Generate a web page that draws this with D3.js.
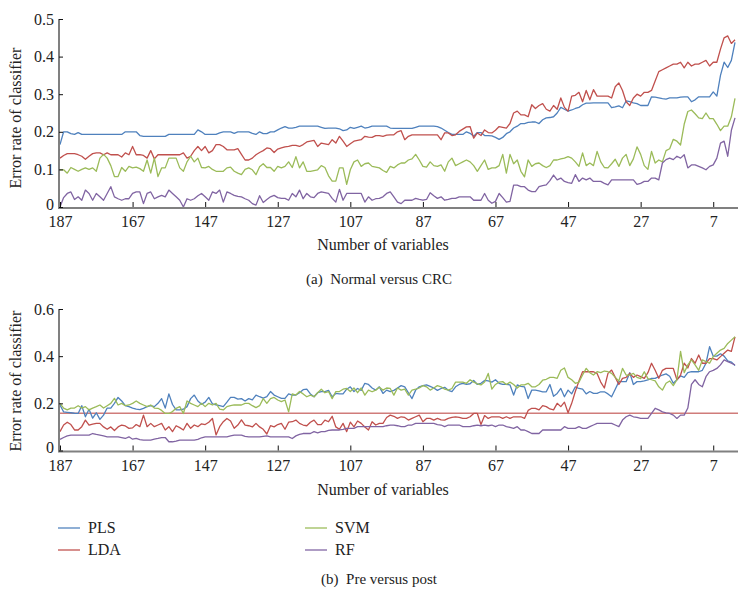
<!DOCTYPE html>
<html><head><meta charset="utf-8">
<script src="https://cdn.jsdelivr.net/npm/d3@7"></script>
<style>body{margin:0;background:#fff}svg{display:block}</style>
</head><body><svg id="c" width="752" height="599"></svg>
<script>
// x categories: number of variables, 187 down to 1
const numVariables = d3.range(187, 0, -1);
const xTickValues = [187,167,147,127,107,87,67,47,27,7];
const topYTicks = [0,0.1,0.2,0.3,0.4,0.5];
const bottomYTicks = [0,0.2,0.4,0.6];
const seriesNames = ["PLS","LDA","SVM","RF"];
const seriesColors = ["#4f81bd","#c0504d","#9bbb59","#8064a2"];

// (a) Normal versus CRC
const topPLS = [
0.166,0.2,0.2,0.195,0.193,0.198,0.193,0.193,0.193,0.193,
0.193,0.193,0.193,0.193,0.193,0.193,0.193,0.193,0.2,0.2,
0.2,0.2,0.19,0.188,0.188,0.188,0.188,0.188,0.188,0.188,
0.193,0.193,0.193,0.193,0.193,0.193,0.193,0.193,0.205,0.2,
0.193,0.193,0.193,0.193,0.197,0.2,0.2,0.2,0.196,0.2,
0.2,0.2,0.2,0.196,0.193,0.2,0.195,0.195,0.2,0.2,
0.205,0.21,0.214,0.21,0.21,0.212,0.215,0.215,0.215,0.215,
0.215,0.215,0.212,0.209,0.21,0.21,0.21,0.208,0.203,0.205,
0.212,0.209,0.212,0.215,0.21,0.212,0.215,0.215,0.215,0.215,
0.215,0.21,0.209,0.209,0.209,0.209,0.209,0.209,0.212,0.215,
0.215,0.215,0.215,0.215,0.214,0.21,0.204,0.198,0.193,0.193,
0.193,0.193,0.2,0.196,0.188,0.198,0.198,0.19,0.19,0.189,
0.185,0.18,0.185,0.195,0.2,0.21,0.215,0.222,0.222,0.225,
0.226,0.226,0.222,0.232,0.237,0.238,0.24,0.25,0.265,0.26,
0.255,0.258,0.262,0.265,0.272,0.276,0.276,0.277,0.277,0.277,
0.277,0.277,0.264,0.266,0.269,0.264,0.282,0.28,0.277,0.275,
0.27,0.27,0.27,0.293,0.292,0.29,0.288,0.287,0.29,0.29,
0.29,0.292,0.293,0.293,0.28,0.285,0.293,0.293,0.293,0.293,
0.306,0.295,0.35,0.385,0.371,0.39,0.438];
const topLDA = [
0.13,0.137,0.142,0.142,0.142,0.139,0.135,0.127,0.135,0.142,
0.144,0.144,0.139,0.144,0.139,0.139,0.139,0.133,0.144,0.139,
0.161,0.139,0.139,0.137,0.13,0.15,0.128,0.139,0.139,0.139,
0.139,0.139,0.139,0.139,0.144,0.13,0.135,0.15,0.161,0.15,
0.161,0.144,0.15,0.166,0.166,0.161,0.152,0.152,0.152,0.155,
0.14,0.125,0.125,0.13,0.139,0.145,0.15,0.157,0.155,0.145,
0.154,0.157,0.16,0.161,0.164,0.164,0.161,0.166,0.173,0.175,
0.177,0.161,0.17,0.168,0.166,0.179,0.17,0.188,0.175,0.161,
0.168,0.175,0.177,0.179,0.188,0.186,0.185,0.19,0.19,0.188,
0.191,0.192,0.192,0.2,0.203,0.179,0.188,0.192,0.192,0.192,
0.192,0.192,0.192,0.192,0.192,0.179,0.197,0.197,0.19,0.192,
0.201,0.207,0.213,0.214,0.183,0.197,0.19,0.205,0.198,0.197,
0.204,0.214,0.212,0.21,0.222,0.25,0.255,0.245,0.245,0.24,
0.272,0.262,0.27,0.275,0.26,0.255,0.27,0.26,0.29,0.265,
0.255,0.295,0.297,0.305,0.28,0.31,0.285,0.312,0.295,0.295,
0.295,0.295,0.29,0.32,0.33,0.31,0.28,0.27,0.29,0.3,
0.295,0.305,0.305,0.31,0.335,0.36,0.365,0.37,0.375,0.38,
0.38,0.385,0.37,0.385,0.375,0.38,0.38,0.385,0.39,0.375,
0.385,0.385,0.42,0.45,0.455,0.435,0.445];
const topSVM = [
0.099,0.099,0.09,0.105,0.1,0.095,0.1,0.104,0.1,0.104,
0.095,0.13,0.14,0.13,0.11,0.081,0.081,0.105,0.095,0.108,
0.104,0.106,0.102,0.095,0.125,0.09,0.13,0.081,0.104,0.104,
0.13,0.13,0.13,0.104,0.095,0.12,0.135,0.12,0.13,0.105,
0.104,0.108,0.1,0.095,0.095,0.095,0.104,0.106,0.095,0.09,
0.086,0.1,0.104,0.099,0.086,0.107,0.115,0.105,0.105,0.095,
0.108,0.104,0.108,0.12,0.105,0.134,0.104,0.12,0.095,0.095,
0.097,0.099,0.11,0.105,0.083,0.069,0.069,0.104,0.104,0.06,
0.099,0.12,0.125,0.108,0.115,0.117,0.108,0.106,0.104,0.097,
0.092,0.108,0.104,0.112,0.117,0.117,0.125,0.128,0.14,0.125,
0.108,0.106,0.12,0.11,0.108,0.112,0.095,0.12,0.13,0.11,
0.115,0.12,0.125,0.12,0.11,0.095,0.11,0.125,0.1,0.104,
0.104,0.11,0.14,0.09,0.14,0.115,0.125,0.095,0.08,0.125,
0.108,0.115,0.117,0.11,0.105,0.11,0.125,0.125,0.128,0.13,
0.134,0.13,0.12,0.108,0.144,0.11,0.117,0.11,0.148,0.12,
0.105,0.104,0.115,0.127,0.108,0.13,0.14,0.11,0.128,0.16,
0.14,0.11,0.1,0.148,0.117,0.125,0.12,0.15,0.155,0.18,
0.175,0.165,0.22,0.254,0.258,0.248,0.237,0.235,0.25,0.235,
0.235,0.22,0.203,0.215,0.215,0.24,0.289];
const topRF = [
0.0,0.025,0.036,0.04,0.02,0.027,0.018,0.045,0.036,0.018,
0.036,0.027,0.018,0.036,0.054,0.027,0.022,0.018,0.022,0.022,
0.036,0.04,0.04,0.009,0.036,0.04,0.022,0.027,0.031,0.027,
0.045,0.036,0.027,0.018,0.0,0.022,0.018,0.022,0.03,0.036,
0.027,0.018,0.04,0.036,0.045,0.013,0.04,0.036,0.031,0.028,
0.027,0.022,0.018,0.009,0.005,0.03,0.012,0.02,0.027,0.031,
0.025,0.023,0.023,0.018,0.036,0.027,0.045,0.022,0.036,0.027,
0.025,0.036,0.04,0.038,0.036,0.023,0.013,0.047,0.018,0.036,
0.036,0.036,0.036,0.036,0.013,0.027,0.018,0.022,0.023,0.027,
0.036,0.04,0.027,0.013,0.009,0.018,0.018,0.018,0.023,0.02,
0.018,0.02,0.038,0.03,0.023,0.027,0.018,0.02,0.023,0.023,
0.027,0.027,0.027,0.027,0.018,0.018,0.018,0.036,0.018,0.01,
0.015,0.036,0.025,0.013,0.015,0.058,0.058,0.054,0.054,0.045,
0.041,0.041,0.054,0.057,0.059,0.07,0.085,0.072,0.077,0.068,
0.065,0.063,0.086,0.068,0.077,0.072,0.077,0.068,0.068,0.068,
0.063,0.059,0.072,0.072,0.072,0.072,0.072,0.072,0.072,0.06,
0.063,0.068,0.068,0.077,0.077,0.072,0.117,0.126,0.13,0.126,
0.135,0.13,0.139,0.104,0.112,0.112,0.108,0.104,0.099,0.108,
0.112,0.13,0.17,0.175,0.135,0.204,0.237];

// (b) Pre versus post
const bottomPLS = [
0.193,0.164,0.162,0.16,0.158,0.157,0.19,0.143,0.175,0.137,
0.16,0.132,0.15,0.18,0.18,0.2,0.225,0.21,0.19,0.186,
0.18,0.175,0.173,0.179,0.186,0.19,0.186,0.2,0.22,0.18,
0.24,0.195,0.172,0.172,0.175,0.186,0.22,0.235,0.21,0.196,
0.205,0.225,0.198,0.193,0.19,0.186,0.205,0.225,0.225,0.218,
0.22,0.21,0.22,0.215,0.235,0.228,0.222,0.228,0.25,0.235,
0.228,0.221,0.221,0.24,0.235,0.235,0.245,0.258,0.26,0.24,
0.228,0.245,0.25,0.25,0.255,0.228,0.242,0.24,0.24,0.26,
0.27,0.25,0.263,0.255,0.285,0.28,0.265,0.256,0.27,0.242,
0.256,0.25,0.255,0.265,0.275,0.27,0.245,0.22,0.256,0.27,
0.275,0.278,0.272,0.265,0.255,0.263,0.268,0.255,0.25,0.27,
0.28,0.285,0.28,0.283,0.297,0.28,0.285,0.297,0.295,0.29,
0.3,0.285,0.28,0.28,0.278,0.235,0.278,0.272,0.27,0.22,
0.256,0.256,0.253,0.249,0.249,0.28,0.23,0.242,0.263,0.228,
0.256,0.24,0.27,0.263,0.26,0.24,0.25,0.242,0.242,0.249,
0.249,0.24,0.228,0.26,0.292,0.292,0.292,0.33,0.28,0.292,
0.292,0.295,0.299,0.306,0.306,0.313,0.32,0.325,0.315,0.285,
0.3,0.316,0.31,0.33,0.334,0.334,0.334,0.34,0.37,0.44,
0.4,0.4,0.41,0.4,0.38,0.375,0.36];
const bottomLDA = [
0.08,0.108,0.12,0.11,0.087,0.087,0.101,0.129,0.108,0.112,
0.115,0.115,0.1,0.09,0.1,0.085,0.1,0.108,0.104,0.094,
0.096,0.11,0.101,0.15,0.101,0.115,0.101,0.108,0.115,0.087,
0.101,0.08,0.105,0.097,0.087,0.115,0.094,0.108,0.101,0.113,
0.11,0.12,0.136,0.066,0.101,0.122,0.136,0.125,0.094,0.108,
0.13,0.108,0.105,0.1,0.115,0.1,0.09,0.07,0.105,0.1,
0.11,0.115,0.09,0.12,0.122,0.129,0.115,0.108,0.105,0.12,
0.129,0.11,0.11,0.129,0.122,0.145,0.1,0.09,0.115,0.08,
0.12,0.1,0.125,0.115,0.1,0.087,0.122,0.108,0.115,0.115,
0.14,0.15,0.145,0.136,0.143,0.14,0.129,0.136,0.143,0.15,
0.122,0.136,0.136,0.129,0.136,0.13,0.129,0.136,0.14,0.143,
0.14,0.136,0.136,0.143,0.157,0.157,0.11,0.148,0.136,0.143,
0.143,0.143,0.136,0.143,0.136,0.143,0.143,0.143,0.136,0.17,
0.179,0.179,0.172,0.19,0.186,0.176,0.172,0.2,0.186,0.205,
0.16,0.2,0.25,0.295,0.334,0.334,0.334,0.334,0.327,0.29,
0.265,0.327,0.341,0.31,0.28,0.306,0.31,0.327,0.31,0.32,
0.313,0.306,0.33,0.37,0.34,0.306,0.34,0.348,0.348,0.348,
0.3,0.32,0.37,0.35,0.39,0.37,0.405,0.37,0.37,0.39,
0.39,0.384,0.398,0.412,0.426,0.42,0.482];
const bottomSVM = [
0.2,0.18,0.172,0.18,0.18,0.19,0.18,0.186,0.172,0.18,
0.186,0.193,0.18,0.19,0.2,0.221,0.193,0.2,0.19,0.193,
0.2,0.21,0.2,0.193,0.186,0.193,0.18,0.179,0.17,0.157,
0.157,0.165,0.179,0.186,0.157,0.21,0.2,0.193,0.186,0.2,
0.186,0.2,0.193,0.2,0.175,0.172,0.186,0.19,0.193,0.193,
0.193,0.2,0.2,0.19,0.182,0.19,0.22,0.2,0.22,0.225,
0.214,0.207,0.214,0.164,0.24,0.235,0.25,0.24,0.228,0.235,
0.228,0.245,0.26,0.245,0.25,0.22,0.25,0.25,0.26,0.263,
0.25,0.265,0.245,0.265,0.235,0.256,0.249,0.256,0.268,0.256,
0.265,0.263,0.235,0.265,0.256,0.26,0.235,0.256,0.26,0.265,
0.275,0.27,0.256,0.265,0.275,0.27,0.26,0.256,0.263,0.29,
0.29,0.29,0.285,0.3,0.29,0.283,0.278,0.29,0.327,0.26,
0.28,0.29,0.292,0.28,0.29,0.28,0.265,0.278,0.278,0.285,
0.27,0.27,0.28,0.298,0.302,0.31,0.31,0.306,0.34,0.35,
0.31,0.3,0.285,0.29,0.32,0.348,0.33,0.32,0.334,0.33,
0.337,0.334,0.327,0.31,0.295,0.348,0.32,0.32,0.327,0.31,
0.305,0.334,0.305,0.3,0.295,0.27,0.256,0.285,0.295,0.275,
0.3,0.42,0.33,0.363,0.384,0.363,0.34,0.384,0.377,0.37,
0.398,0.412,0.426,0.433,0.454,0.468,0.482];
const bottomRF = [
0.047,0.055,0.062,0.065,0.065,0.065,0.065,0.065,0.065,0.072,
0.068,0.065,0.062,0.058,0.058,0.058,0.058,0.055,0.051,0.058,
0.048,0.051,0.046,0.044,0.044,0.044,0.048,0.051,0.055,0.055,
0.037,0.037,0.04,0.044,0.044,0.044,0.044,0.044,0.047,0.054,
0.058,0.058,0.058,0.058,0.058,0.058,0.058,0.062,0.065,0.065,
0.065,0.06,0.058,0.058,0.058,0.058,0.06,0.062,0.058,0.058,
0.058,0.058,0.058,0.058,0.051,0.062,0.068,0.072,0.072,0.072,
0.08,0.075,0.08,0.08,0.085,0.087,0.087,0.087,0.09,0.094,
0.094,0.094,0.101,0.101,0.101,0.101,0.101,0.101,0.101,0.101,
0.105,0.108,0.108,0.105,0.101,0.101,0.108,0.108,0.115,0.115,
0.115,0.115,0.115,0.115,0.11,0.108,0.101,0.108,0.108,0.108,
0.108,0.101,0.101,0.101,0.105,0.108,0.105,0.108,0.105,0.108,
0.101,0.108,0.108,0.101,0.098,0.094,0.101,0.087,0.087,0.08,
0.072,0.072,0.072,0.087,0.087,0.087,0.087,0.087,0.087,0.101,
0.094,0.094,0.094,0.101,0.094,0.094,0.101,0.108,0.115,0.115,
0.115,0.115,0.115,0.108,0.101,0.129,0.143,0.15,0.143,0.14,
0.136,0.136,0.136,0.157,0.179,0.172,0.164,0.16,0.157,0.15,
0.136,0.15,0.15,0.18,0.28,0.3,0.28,0.27,0.313,0.334,
0.34,0.348,0.363,0.384,0.377,0.37,0.363];
const bottomReferenceLevel = 0.158;

const svg = d3.select("#c");
svg.append("rect").attr("width",752).attr("height",599).attr("fill","#fff");
const FONT = "'Liberation Serif','Times New Roman',serif";

function drawPanel(cfg) {
  const x = d3.scaleLinear().domain([187, 1]).range([60, 735]);
  const y = d3.scaleLinear().domain(cfg.yDomain).range(cfg.yRange);
  const g = svg.append("g");
  const y0 = y(0);
  const axisColor = "#808080";

  const line = d3.line().x((d,i) => x(numVariables[i])).y(d => y(d));
  if (cfg.refLevel !== undefined) {
    g.append("line")
      .attr("x1", x(187)).attr("x2", x(1) + 3)
      .attr("y1", y(cfg.refLevel)).attr("y2", y(cfg.refLevel))
      .attr("stroke", seriesColors[1]).attr("stroke-opacity", 0.75).attr("stroke-width", 1.5);
  }
  cfg.series.forEach((s, k) => {
    g.append("path").datum(s).attr("d", line)
      .attr("fill","none").attr("stroke", seriesColors[k])
      .attr("stroke-width", 1.3).attr("stroke-linejoin","round");
  });

  g.append("line").attr("x1", x(187) - 1).attr("x2", x(187) - 1)
    .attr("y1", y(cfg.yDomain[1])).attr("y2", y0 + 1)
    .attr("stroke", axisColor).attr("stroke-width", 2);
  g.append("line").attr("x1", x(187) - 2).attr("x2", x(1) + 3)
    .attr("y1", y0 + 1).attr("y2", y0 + 1)
    .attr("stroke", axisColor).attr("stroke-width", 2);

  const xa = g.append("g").attr("transform", `translate(0,${y0})`)
    .call(d3.axisBottom(x).tickValues(xTickValues).tickSizeInner(-5).tickSizeOuter(0).tickPadding(9).tickFormat(d3.format("d")));
  xa.select(".domain").remove();
  xa.selectAll(".tick line").attr("stroke","#111");
  xa.selectAll("text").attr("font-family", FONT).attr("font-size", 16).attr("fill","#222");

  const ya = g.append("g").attr("transform", `translate(${x(187) - 1},0)`)
    .call(d3.axisLeft(y).tickValues(cfg.yTicks).tickSizeInner(-4).tickSizeOuter(0).tickPadding(5)
      .tickFormat(d => d === 0 ? "0" : d.toFixed(1)));
  ya.select(".domain").remove();
  ya.selectAll(".tick line").attr("stroke","#111");
  ya.selectAll("text").attr("font-family", FONT).attr("font-size", 16).attr("fill","#222")
    .attr("dy", d => d === 0 ? "0.15em" : "0.32em");

  svg.append("text").attr("transform", `translate(21,${cfg.yTitleY}) rotate(-90)`)
    .attr("text-anchor","middle").attr("font-family", FONT).attr("font-size", 16).attr("fill","#222")
    .text("Error rate of classifier");
  svg.append("text").attr("x", 383).attr("y", cfg.xTitleY)
    .attr("text-anchor","middle").attr("font-family", FONT).attr("font-size", 16).attr("fill","#222")
    .text("Number of variables");
  svg.append("text").attr("x", 379).attr("y", cfg.captionY)
    .attr("text-anchor","middle").attr("font-family", FONT).attr("font-size", 15).attr("fill","#222")
    .style("white-space","pre")
    .text(cfg.caption);
}

drawPanel({
  series: [topPLS, topLDA, topSVM, topRF],
  yDomain: [0, 0.5], yRange: [207, 19], yTicks: topYTicks,
  yTitleY: 118, xTitleY: 250, captionY: 284, caption: "(a)  Normal versus CRC"
});
drawPanel({
  series: [bottomPLS, bottomLDA, bottomSVM, bottomRF],
  yDomain: [0, 0.6], yRange: [450.5, 309], yTicks: bottomYTicks, refLevel: bottomReferenceLevel,
  yTitleY: 381, xTitleY: 495, captionY: 584, caption: "(b)  Pre versus post"
});

const legendPos = [[58,528],[58,550],[305,528],[305,550]];
seriesNames.forEach((name, k) => {
  const [lx, ly] = legendPos[k];
  svg.append("line").attr("x1", lx).attr("x2", lx + 22).attr("y1", ly).attr("y2", ly)
    .attr("stroke", seriesColors[k]).attr("stroke-width", 1.6).attr("stroke-opacity", 0.8);
  svg.append("text").attr("x", lx + 30).attr("y", ly + 5)
    .attr("font-family", FONT).attr("font-size", 16).attr("fill","#222").text(name);
});
</script>
</body></html>
